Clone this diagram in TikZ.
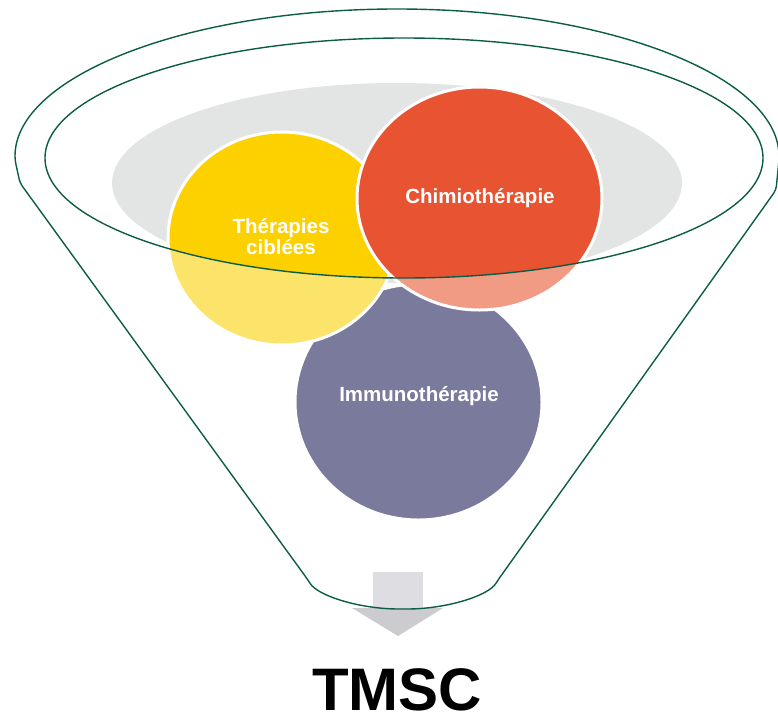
\documentclass[tikz,border=0pt]{standalone}
\usepackage{fontspec}
\setmainfont{Liberation Sans}
\definecolor{funnelgreen}{HTML}{0B5E45}
\definecolor{bggray}{HTML}{E3E4E4}
\definecolor{yelF}{HTML}{FDD000}
\definecolor{yelL}{HTML}{FCE36A}
\definecolor{redF}{HTML}{E85331}
\definecolor{redL}{HTML}{F19A84}
\definecolor{purF}{HTML}{7A7A9D}
\definecolor{shaftgray}{HTML}{DEDEE2}
\definecolor{headgray}{HTML}{CBCBD0}
\tikzset{
  funnelline/.style={draw=funnelgreen, line width=1.4pt},
  ringline/.style={draw=white, line width=3pt},
  circtext/.style={text=white, font=\bfseries\fontsize{20.5}{22}\selectfont, align=center, inner sep=0pt},
  titletext/.style={text=black, font=\bfseries\fontsize{60}{60}\selectfont, inner sep=0pt, text depth=0pt, anchor=south}
}
\begin{document}
\begin{tikzpicture}[x=1pt, y=-1pt]
\useasboundingbox (0,0) rectangle (778,715);
% background grey ellipse
\fill[bggray] (397,183) ellipse [x radius=285, y radius=100];
% purple disc
\fill[purF] (418.5,402) ellipse [x radius=123.5, y radius=118];
\draw[ringline] (418.5,402) ellipse [x radius=123.5, y radius=118];
% yellow disc
\fill[yelL] (282,238.5) ellipse [x radius=114, y radius=106.5];
\begin{scope}
  \clip (404,158) ellipse [x radius=359, y radius=120];
  \fill[yelF] (282,238.5) ellipse [x radius=114, y radius=106.5];
\end{scope}
\draw[ringline] (282,238.5) ellipse [x radius=114, y radius=106.5];
% red disc
\fill[redL] (479.5,198.5) ellipse [x radius=122.5, y radius=111.5];
\begin{scope}
  \clip (404,158) ellipse [x radius=359, y radius=120];
  \fill[redF] (479.5,198.5) ellipse [x radius=122.5, y radius=111.5];
\end{scope}
\draw[ringline] (479.5,198.5) ellipse [x radius=122.5, y radius=111.5];
% texts
\node[circtext] (ther) at (281,237) {Thérapies\\[-1pt]ciblées};
\node[circtext] (chim) at (480,198) {Chimiothérapie};
\node[circtext] (immu) at (419,396) {Immunothérapie};
% arrow
\fill[shaftgray] (373,572) rectangle (423,609);
\fill[headgray] (352,608) -- (443,608) -- (398,636) -- cycle;
% inner ellipse
\draw[funnelline] (404,158) ellipse [x radius=359, y radius=120];
% outer funnel
\draw[funnelline, rounded corners=4pt] (15,160) arc[start angle=180, end angle=360, x radius=382, y radius=151]
  -- (776,190) -- (498,580)
  .. controls (488,596) and (446,609) .. (403,609)
  .. controls (360,609) and (318,596) .. (308,580)
  -- (20,183) -- cycle;
% title
\node[titletext] (tmsc) at (397,711) {TMSC};
\end{tikzpicture}
\end{document}
